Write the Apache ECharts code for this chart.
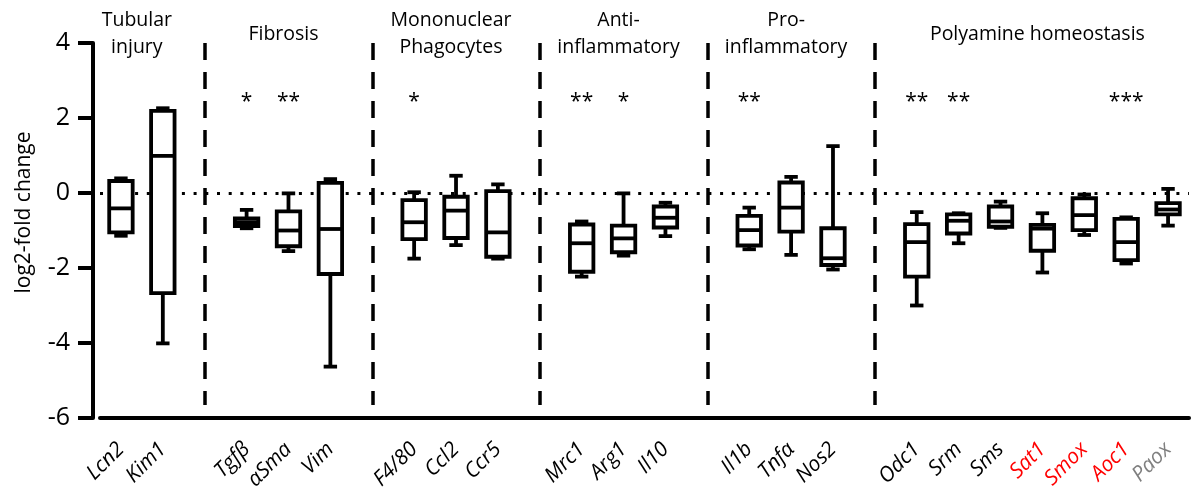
<!DOCTYPE html>
<html>
<head>
<meta charset="utf-8">
<script src="https://cdn.jsdelivr.net/npm/echarts@6/dist/echarts.min.js"></script>
<style>
  html, body { margin: 0; background: #fff; }
  #chart { width: 1196px; height: 502px; }
</style>
</head>
<body>
<div id="chart"></div>
<script>
// genes along the x axis, '' marks the gap where a group divider sits
const genes = ['Lcn2', 'Kim1', '', 'Tgfβ', 'αSma', 'Vim', '', 'F4/80', 'Ccl2', 'Ccr5', '', 'Mrc1', 'Arg1', 'Il10', '', 'Il1b', 'Tnfα', 'Nos2', '', 'Odc1', 'Srm', 'Sms', 'Sat1', 'Smox', 'Aoc1', 'Paox']
// five-number summaries (log2-fold change)
const whiskerLow = [-1.14, -4.01, null, -0.94, -1.55, -4.63, null, -1.75, -1.39, -1.75, null, -2.23, -1.67, -1.15, null, -1.5, -1.65, -2.04, null, -3.0, -1.34, -0.93, -2.12, -1.12, -1.88, -0.87]
const q1 = [-1.05, -2.67, null, -0.88, -1.42, -2.16, null, -1.23, -1.2, -1.7, null, -2.1, -1.58, -0.92, null, -1.4, -1.03, -1.92, null, -2.23, -1.08, -0.9, -1.54, -0.99, -1.79, -0.57]
const median = [-0.41, 0.99, null, -0.78, -1.0, -0.96, null, -0.78, -0.47, -1.05, null, -1.34, -1.21, -0.66, null, -0.99, -0.39, -1.74, null, -1.31, -0.74, -0.76, -0.95, -0.59, -1.31, -0.44]
const q3 = [0.32, 2.19, null, -0.68, -0.49, 0.27, null, -0.19, -0.1, 0.05, null, -0.84, -0.87, -0.36, null, -0.61, 0.28, -0.94, null, -0.83, -0.57, -0.36, -0.85, -0.14, -0.69, -0.27]
const whiskerHigh = [0.39, 2.26, null, -0.45, -0.01, 0.37, null, 0.02, 0.46, 0.23, null, -0.76, -0.01, -0.26, null, -0.39, 0.43, 1.25, null, -0.51, -0.54, -0.23, -0.54, -0.04, -0.65, 0.11]
const stars = ['', '', '', '*', '**', '', '', '*', '', '', '', '**', '*', '', '', '**', '', '', '', '**', '**', '', '', '', '***', '']
const groupNames = ['Tubular\ninjury', 'Fibrosis', 'Mononuclear\nPhagocytes', 'Anti-\ninflammatory', 'Pro-\ninflammatory', 'Polyamine homeostasis']
const yTicks = [-6, -4, -2, 0, 2, 4]
const redGenes = ['Sat1', 'Smox', 'Aoc1']
const greyGenes = ['Paox']

const FONT = 'Open Sans'
const yMin = yTicks[0]
const yMax = yTicks[yTicks.length - 1]

// gap indices -> dividers, and groups between them
const gaps = []
genes.forEach((g, i) => { if (g === '') gaps.push(i) })
const bounds = [-1].concat(gaps, [genes.length])
const groupCenters = groupNames.map((n, k) => (bounds[k] + 1 + bounds[k + 1] - 1) / 2)

const boxData = []
genes.forEach((g, i) => {
  if (g !== '') boxData.push([i, whiskerLow[i], q1[i], median[i], q3[i], whiskerHigh[i]])
})
const starData = []
stars.forEach((s, i) => { if (s) starData.push({ value: [i, 2.42], label: { formatter: s } }) })

function renderBox(params, api) {
  const x = api.value(0)
  const lo = api.coord([x, api.value(1)])
  const b1 = api.coord([x, api.value(2)])
  const md = api.coord([x, api.value(3)])
  const b3 = api.coord([x, api.value(4)])
  const hi = api.coord([x, api.value(5)])
  const band = api.size([1, 0])[0]
  const hw = band * 0.28
  const cw = band * 0.16
  const cx = lo[0]
  const st = { stroke: '#000', lineWidth: 3.8, fill: null }
  return {
    type: 'group',
    children: [
      { type: 'line', shape: { x1: cx, y1: hi[1], x2: cx, y2: lo[1] }, style: st },
      { type: 'line', shape: { x1: cx - cw, y1: hi[1], x2: cx + cw, y2: hi[1] }, style: st },
      { type: 'line', shape: { x1: cx - cw, y1: lo[1], x2: cx + cw, y2: lo[1] }, style: st },
      { type: 'rect', shape: { x: cx - hw, y: b3[1], width: 2 * hw, height: b1[1] - b3[1] }, style: { stroke: '#000', lineWidth: 3.8, fill: '#fff' } },
      { type: 'line', shape: { x1: cx - hw, y1: md[1], x2: cx + hw, y2: md[1] }, style: st }
    ]
  }
}

const chart = echarts.init(document.getElementById('chart'))
const labelBase = { fontFamily: FONT, fontStyle: 'italic', fontSize: 21 }

chart.setOption({
  animation: false,
  backgroundColor: '#fff',
  grid: { left: 100, right: 7, top: 43, bottom: 84 },
  xAxis: [{
    type: 'category',
    data: genes,
    boundaryGap: true,
    axisLine: { onZero: false, lineStyle: { color: '#000', width: 4 } },
    axisTick: { alignWithLabel: true, interval: 0, length: 15, lineStyle: { color: '#000', width: 4 } },
    axisLabel: {
      interval: 0,
      rotate: 45,
      margin: 28,
      color: '#000',
      ...labelBase,
      formatter: v => redGenes.includes(v) ? '{r|' + v + '}' : greyGenes.includes(v) ? '{g|' + v + '}' : v,
      rich: {
        r: { ...labelBase, color: '#ff0000' },
        g: { ...labelBase, color: '#7f7f7f' }
      }
    },
    splitLine: { show: false }
  }, {
    type: 'value',
    min: -0.5,
    max: genes.length - 0.5,
    show: false
  }],
  yAxis: {
    type: 'value',
    min: yMin,
    max: yMax,
    interval: 2,
    offset: 7,
    name: 'log2-fold change',
    nameLocation: 'middle',
    nameGap: 58,
    nameTextStyle: { fontFamily: FONT, fontSize: 21, color: '#000', padding: [0, 0, 0, 36] },
    axisLine: { show: true, onZero: false, lineStyle: { color: '#000', width: 4 } },
    axisTick: { show: true, length: 15, lineStyle: { color: '#000', width: 4 } },
    axisLabel: { fontFamily: FONT, fontSize: 25, color: '#000', margin: 23 },
    splitLine: { show: false }
  },
  series: [{
    type: 'line',
    data: [],
    silent: true,
    z: 1,
    markLine: {
      silent: true,
      symbol: 'none',
      label: { show: false },
      data: [
        { yAxis: 0, lineStyle: { color: '#000', width: 3, type: [3, 8.7] } }
      ].concat(gaps.map(i => [
        { coord: [i, yMax], lineStyle: { color: '#000', width: 3.5, type: [17, 12] } },
        { coord: [i, -5.65] }
      ]))
    }
  }, {
    type: 'custom',
    renderItem: renderBox,
    data: boxData,
    encode: { x: 0, y: [1, 2, 3, 4, 5] },
    z: 5,
    silent: true
  }, {
    type: 'scatter',
    data: starData,
    symbolSize: 0,
    silent: true,
    z: 6,
    itemStyle: { opacity: 1 },
    label: { show: true, position: 'inside', fontFamily: FONT, fontSize: 21, color: '#000', opacity: 1 }
  }, {
    type: 'scatter',
    xAxisIndex: 1,
    data: groupNames.map((n, k) => ({ value: [groupCenters[k] - 0.12, yMax], label: { formatter: n } })),
    symbolSize: 0,
    silent: true,
    z: 6,
    itemStyle: { opacity: 1 },
    label: { show: true, position: 'inside', offset: [0, -9], fontFamily: FONT, fontSize: 19.5, lineHeight: 27, color: '#000', opacity: 1, align: 'center' }
  }]
})
</script>
</body>
</html>
